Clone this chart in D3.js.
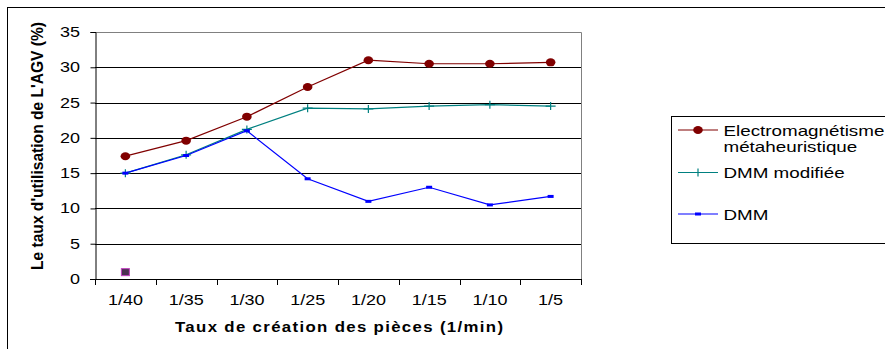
<!DOCTYPE html>
<html><head><meta charset="utf-8">
<script src="https://cdn.jsdelivr.net/npm/d3@7"></script>
<style>
html,body{margin:0;padding:0;background:#fff;}
svg{display:block;font-family:"Liberation Sans",Arial,sans-serif;}
</style></head>
<body><svg id="c" width="885" height="349"></svg>
<script>
const categories = ["1/40","1/35","1/30","1/25","1/20","1/15","1/10","1/5"];
const electro = [17.4, 19.6, 23.0, 27.2, 31.0, 30.5, 30.5, 30.7];
const dmmMod = [15.0, 17.6, 21.2, 24.2, 24.1, 24.5, 24.7, 24.5];
const dmm = [15.0, 17.5, 21.0, 14.2, 11.0, 13.0, 10.5, 11.7];
const stray = [{cat:"1/40", v:0.9}];
const yTicks = [0,5,10,15,20,25,30,35];
const seriesNames = ["Electromagnétisme|métaheuristique","DMM modifiée","DMM"];

const FONT = "Liberation Sans, Arial, sans-serif";
const svg = d3.select("#c");
const L=95, R=581, T=32, B=279;
const x = d3.scaleBand().domain(categories).range([L,R]).padding(0);
const y = d3.scaleLinear().domain([0,35]).range([B,T]);
const cx = d => x(d)+x.bandwidth()/2;

// measure horizontal stretch needed for a given text to reach a target width
function stretch(str, size, target, bold){
  const t = svg.append("text").attr("font-family",FONT).attr("font-size",size)
    .attr("font-weight",bold?"bold":"normal").text(str);
  const w = t.node().getComputedTextLength();
  t.remove();
  return w>0 ? target/w : 1.3;
}
const SX_TICK = stretch("1/40", 14, 35);
const SX_LEG = stretch("Electromagnétisme", 15, 161);

function stext(g, px, py, str, size, sx, opts={}){
  const t = g.append("text").attr("transform",`translate(${px},${py}) scale(${sx},1)`)
    .attr("font-size",size).attr("font-family",FONT).attr("fill","#000")
    .attr("text-anchor",opts.anchor||"start").text(str);
  if(opts.bold) t.attr("font-weight","bold");
  if(opts.len) t.attr("textLength",opts.len).attr("lengthAdjust","spacing");
  return t;
}

// outer border
svg.append("rect").attr("x",7.5).attr("y",7.5).attr("width",900).attr("height",400)
  .attr("fill","none").attr("stroke","#000").attr("stroke-width",1);

// gridlines
svg.append("g").selectAll("line").data(yTicks.filter(t=>t>0 && t<35)).join("line")
  .attr("x1",L).attr("x2",R).attr("y1",d=>Math.round(y(d))+0.5).attr("y2",d=>Math.round(y(d))+0.5)
  .attr("stroke","#000").attr("stroke-width",1);
svg.append("path").attr("d",`M${L},${T+0.5}H${R+0.5}V${B}`).attr("fill","none").attr("stroke","#808080");

// y axis
const ya = svg.append("g").attr("transform",`translate(${L+0.5},0)`)
  .call(d3.axisLeft(y).tickValues(yTicks).tickSize(5).tickPadding(10));
ya.select(".domain").attr("stroke","#000");
ya.selectAll(".tick text").attr("font-size",14).attr("font-family",FONT).attr("fill","#000")
  .attr("x",-15.5/SX_TICK).attr("transform",`scale(${SX_TICK},1)`);

// x axis
const xa = svg.append("g").attr("transform",`translate(0,${Math.round(B)+0.5})`)
  .call(d3.axisBottom(x).tickSize(0).tickPadding(16));
xa.select(".domain").remove();
xa.selectAll(".tick text").attr("font-size",14).attr("font-family",FONT).attr("fill","#000")
  .attr("transform",`scale(${SX_TICK},1)`);
svg.append("line").attr("x1",L-5).attr("x2",R+1).attr("y1",Math.round(B)+0.5).attr("y2",Math.round(B)+0.5).attr("stroke","#000");
const bounds = categories.map(c=>x(c)).concat([R]);
svg.append("g").selectAll("line").data(bounds).join("line")
  .attr("x1",d=>Math.round(d)+0.5).attr("x2",d=>Math.round(d)+0.5)
  .attr("y1",B).attr("y2",B+6).attr("stroke","#000");

// lines
const line = d3.line().x((d,i)=>cx(categories[i])).y(d=>y(d));
const series = [
  {vals:electro, color:"#800000", marker:"circle"},
  {vals:dmmMod, color:"#008080", marker:"plus"},
  {vals:dmm, color:"#0000ff", marker:"dash"}
];
function drawMarker(g, type, color, px, py){
  if(type==="circle") g.append("ellipse").attr("cx",px).attr("cy",py).attr("rx",4.8).attr("ry",4).attr("fill",color);
  else if(type==="plus") g.append("path").attr("d",`M${px-5},${py}H${px+5}M${px},${py-4}V${py+4}`).attr("stroke",color).attr("stroke-width",1.2).attr("fill","none");
  else g.append("rect").attr("x",px-3).attr("y",py-1.5).attr("width",6).attr("height",3).attr("fill",color);
}
series.forEach(s=>{
  svg.append("path").attr("d",line(s.vals)).attr("fill","none").attr("stroke",s.color).attr("stroke-width",1.2);
});
series.forEach(s=>{
  const g = svg.append("g");
  s.vals.forEach((v,i)=>drawMarker(g,s.marker,s.color,cx(categories[i]),y(v)));
});
stray.forEach(d=>{
  svg.append("rect").attr("x",cx(d.cat)-4).attr("y",y(d.v)-4).attr("width",8).attr("height",7)
    .attr("fill","#4a3050").attr("stroke","#c040c0").attr("stroke-width",1);
});

// axis titles
stext(svg, 339, 332, "Taux de création des pièces (1/min)", 14, 1.2, {bold:true, anchor:"middle", len:328/1.2});
svg.append("text").attr("transform",`translate(37,146) rotate(-90) scale(1,1.3)`).attr("text-anchor","middle")
  .attr("font-family",FONT).attr("font-weight","bold").attr("font-size",12.5).attr("dy","0.35em")
  .attr("textLength",248).attr("lengthAdjust","spacingAndGlyphs")
  .text("Le taux d'utilisation de L'AGV  (%)");

// legend
const lg = svg.append("g");
lg.append("rect").attr("x",671.5).attr("y",116.5).attr("width",260).attr("height",127)
  .attr("fill","#fff").attr("stroke","#000");
const legY = [130, 172.5, 214];
series.forEach((s,i)=>{
  lg.append("line").attr("x1",678).attr("x2",718).attr("y1",legY[i]).attr("y2",legY[i]).attr("stroke",s.color).attr("stroke-width",1.2);
  drawMarker(lg,s.marker,s.color,698,legY[i]);
  const parts = seriesNames[i].split("|");
  parts.forEach((p,j)=>{
    stext(lg, 723.5, legY[i]+5.5+j*16.5, p, 15, SX_LEG);
  });
});
</script></body></html>
